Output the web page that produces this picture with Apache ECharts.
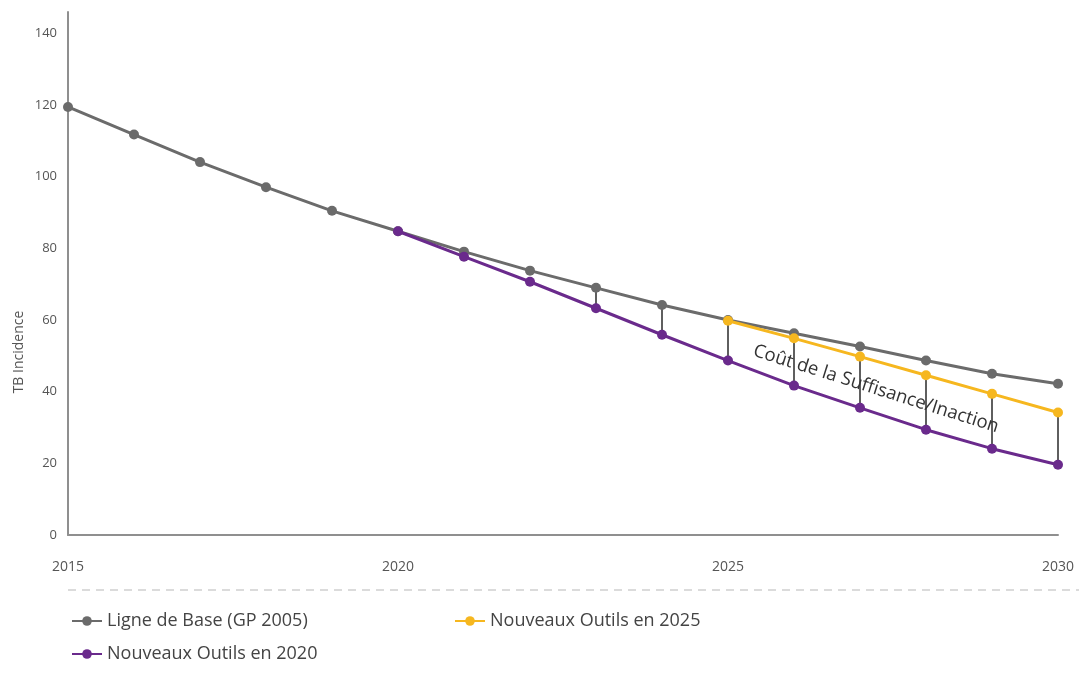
<!DOCTYPE html>
<html lang="fr">
<head>
    <meta charset="UTF-8">
    <title>TB Incidence</title>
    <script src="https://cdn.jsdelivr.net/npm/echarts@6/dist/echarts.min.js"></script>
    <style>
        html, body { margin: 0; padding: 0; background: #fff; }
        #main { width: 1079px; height: 674px; }
    </style>
</head>
<body>
    <div id="main"></div>

    <script>
        // données
        var years = [2015, 2016, 2017, 2018, 2019, 2020, 2021, 2022, 2023, 2024, 2025, 2026, 2027, 2028, 2029, 2030];
        var baseline = [119.5, 111.8, 104.1, 97.1, 90.5, 84.8, 79.1, 73.8, 69.0, 64.2, 60.0, 56.3, 52.6, 48.7, 45.0, 42.2];
        var outils2020Years = [2020, 2021, 2022, 2023, 2024, 2025, 2026, 2027, 2028, 2029, 2030];
        var outils2020 = [84.8, 77.7, 70.7, 63.3, 55.9, 48.7, 41.7, 35.5, 29.4, 24.1, 19.6];
        var outils2025Years = [2025, 2026, 2027, 2028, 2029, 2030];
        var outils2025 = [59.8, 54.9, 49.8, 44.6, 39.4, 34.2];
        // traits verticaux (écart) : [année, bas, haut]
        var gaps = [
            [2023, 63.3, 69.0],
            [2024, 55.9, 64.2],
            [2025, 48.7, 59.8],
            [2026, 41.7, 54.9],
            [2027, 35.5, 49.8],
            [2028, 29.4, 44.6],
            [2029, 24.1, 39.4],
            [2030, 19.6, 34.2]
        ];
        var names = ['Ligne de Base (GP 2005)', 'Nouveaux Outils en 2020', 'Nouveaux Outils en 2025'];
        var colors = ['#6b6b6b', '#6a2a8c', '#f6b71f'];

        function pairs(xs, ys) {
            return xs.map(function (x, i) { return [x, ys[i]]; });
        }

        var font = 'Open Sans';
        var chart = echarts.init(document.getElementById('main'));

        var option = {
            animation: false,
            textStyle: { fontFamily: font },
            grid: { left: 68, right: 21, top: 12, bottom: 139 },
            xAxis: {
                type: 'value',
                min: 2015,
                max: 2030,
                interval: 5,
                axisLine: { lineStyle: { color: '#8f8f8f', width: 2 } },
                axisTick: { show: false },
                splitLine: { show: false },
                axisLabel: {
                    color: '#555',
                    fontSize: 14,
                    margin: 25,
                    formatter: function (v) { return String(v); }
                }
            },
            yAxis: {
                type: 'value',
                min: 0,
                max: 146,
                interval: 20,
                axisLine: { show: true, lineStyle: { color: '#8f8f8f', width: 2 } },
                axisTick: { show: false },
                splitLine: { show: false },
                axisLabel: { color: '#555', fontSize: 13, margin: 11, showMaxLabel: false }
            },
            legend: [
                {
                    data: [names[0], names[1]],
                    orient: 'vertical',
                    left: 66,
                    top: 607,
                    itemWidth: 30,
                    itemHeight: 12,
                    itemGap: 15,
                    textStyle: { color: '#444', fontSize: 18, fontFamily: font }
                },
                {
                    data: [names[2]],
                    orient: 'vertical',
                    left: 449,
                    top: 607,
                    itemWidth: 30,
                    itemHeight: 12,
                    textStyle: { color: '#444', fontSize: 18, fontFamily: font }
                }
            ],
            graphic: [
                {
                    type: 'line',
                    shape: { x1: 68, y1: 590, x2: 1079, y2: 590 },
                    style: { stroke: '#cfcfcf', lineWidth: 1.5, lineDash: [8, 6] }
                },
                {
                    type: 'text',
                    x: 19,
                    y: 352,
                    rotation: Math.PI / 2,
                    style: {
                        text: 'TB Incidence',
                        fill: '#555',
                        fontSize: 14,
                        fontFamily: font,
                        align: 'center',
                        verticalAlign: 'middle'
                    }
                },
                {
                    type: 'text',
                    x: 876,
                    y: 389,
                    rotation: -0.305,
                    z: 10,
                    style: {
                        text: 'Coût de la Suffisance/Inaction',
                        fill: '#333',
                        fontSize: 18.5,
                        fontFamily: font,
                        align: 'center',
                        verticalAlign: 'middle'
                    }
                }
            ],
            series: [
                {
                    type: 'custom',
                    name: 'gaps',
                    data: gaps,
                    z: 1,
                    renderItem: function (params, api) {
                        var lo = api.coord([api.value(0), api.value(1)]);
                        var hi = api.coord([api.value(0), api.value(2)]);
                        return {
                            type: 'line',
                            shape: { x1: lo[0], y1: lo[1], x2: hi[0], y2: hi[1] },
                            style: { stroke: '#5f5f5f', lineWidth: 2 }
                        };
                    }
                },
                {
                    type: 'line',
                    name: names[0],
                    data: pairs(years, baseline),
                    color: colors[0],
                    symbol: 'circle',
                    symbolSize: 10,
                    lineStyle: { width: 3 },
                    z: 2
                },
                {
                    type: 'line',
                    name: names[1],
                    data: pairs(outils2020Years, outils2020),
                    color: colors[1],
                    symbol: 'circle',
                    symbolSize: 10,
                    lineStyle: { width: 3 },
                    z: 3
                },
                {
                    type: 'line',
                    name: names[2],
                    data: pairs(outils2025Years, outils2025),
                    color: colors[2],
                    symbol: 'circle',
                    symbolSize: 10,
                    lineStyle: { width: 3 },
                    z: 4
                }
            ]
        };

        chart.setOption(option);
    </script>
</body>
</html>
